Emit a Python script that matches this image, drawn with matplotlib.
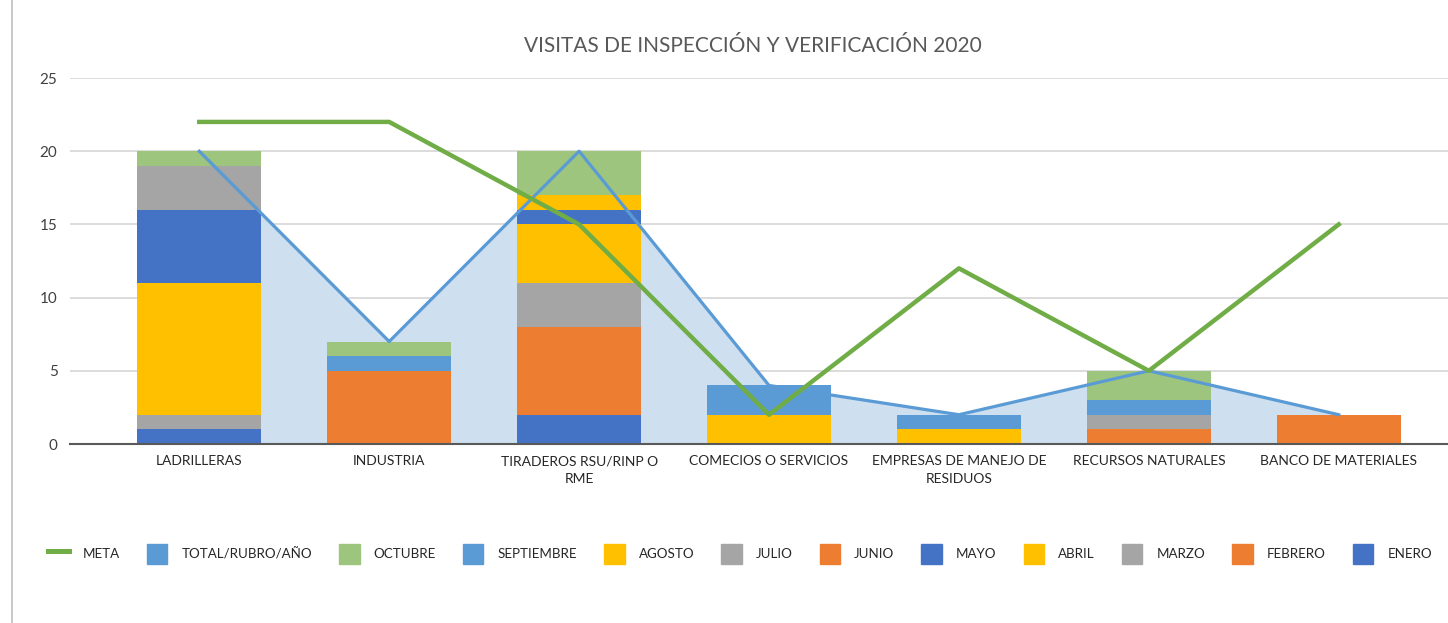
import numpy as np
import matplotlib.pyplot as plt
from matplotlib.lines import Line2D
from matplotlib.patches import Patch

plt.rcParams['font.family'] = ['Lato', 'DejaVu Sans']

categorias = ['LADRILLERAS', 'INDUSTRIA', 'TIRADEROS RSU/RINP O\nRME', 'COMECIOS O SERVICIOS',
              'EMPRESAS DE MANEJO DE\nRESIDUOS', 'RECURSOS NATURALES', 'BANCO DE MATERIALES']
meses = ['ENERO', 'FEBRERO', 'MARZO', 'ABRIL', 'MAYO', 'JUNIO', 'JULIO', 'AGOSTO', 'SEPTIEMBRE', 'OCTUBRE']

enero = [1, 0, 2, 0, 0, 0, 0]
febrero = [0, 0, 6, 0, 0, 1, 2]
marzo = [1, 0, 3, 0, 0, 1, 0]
abril = [9, 0, 4, 2, 1, 0, 0]
mayo = [5, 0, 1, 0, 0, 0, 0]
junio = [0, 5, 0, 0, 0, 0, 0]
julio = [3, 0, 0, 0, 0, 0, 0]
agosto = [0, 0, 1, 0, 0, 0, 0]
septiembre = [0, 1, 0, 2, 1, 1, 0]
octubre = [1, 1, 3, 0, 0, 2, 0]
total = [20, 7, 20, 4, 2, 5, 2]
meta = [22, 22, 15, 2, 12, 5, 15]

valores = [enero, febrero, marzo, abril, mayo, junio, julio, agosto, septiembre, octubre]
colores = ['#4472C4', '#ED7D31', '#A5A5A5', '#FFC000', '#4472C4', '#ED7D31',
           '#A5A5A5', '#FFC000', '#5B9BD5', '#9DC57E']

fig = plt.figure(figsize=(14.48, 6.23), dpi=100)
ax = fig.add_axes([70/1448, 1-444/623, 1-70/1448, (444-78)/623])

x = np.arange(len(categorias))
ax.fill_between(x, 0, total, color='#CEDFF0', zorder=1, lw=0)

base = np.zeros(len(categorias))
for v, c in zip(valores, colores):
    ax.bar(x, v, 0.655, bottom=base, color=c, zorder=2)
    base += np.array(v)

ax.plot(x, total, color='#5B9BD5', lw=2.3, zorder=3)
ax.plot(x, meta, color='#70AD47', lw=3.2, zorder=4)

ax.set_ylim(0, 25)
ax.set_xlim(-(199-70)/189.5, 6 + (1448-1339)/189.5)
ax.set_yticks(range(0, 26, 5))
ax.grid(axis='y', color='#D9D9D9', lw=1.3, zorder=0)
ax.set_axisbelow(True)
for s in ['top', 'right', 'left']:
    ax.spines[s].set_visible(False)
ax.spines['bottom'].set_color('#595959')
ax.spines['bottom'].set_linewidth(1.5)
ax.spines['bottom'].set_zorder(5)
ax.set_xticks(x)
ax.set_xticklabels(categorias, fontsize=10, color='#262626', linespacing=1.6)
ax.tick_params(axis='x', length=0, pad=8)
ax.tick_params(axis='y', length=0, pad=9, labelsize=11, labelcolor='#404040')

fig.text(753/1448, 1-46/623, 'VISITAS DE INSPECCIÓN Y VERIFICACIÓN 2020', ha='center', va='center',
         fontsize=15, color='#595959')

# borde del grafico
fig.add_artist(Line2D([12/1448, 12/1448], [0, 1], color='#BFBFBF', lw=1.2))

handles = [Line2D([0], [0], color='#70AD47', lw=3.6), Patch(color='#5B9BD5')]
etiquetas = ['META', 'TOTAL/RUBRO/AÑO']
for m, c in reversed(list(zip(meses, colores))):
    handles.append(Patch(color=c))
    etiquetas.append(m)
fig.legend(handles, etiquetas, loc='center left', bbox_to_anchor=(48/1448, 1-554/623), ncol=12,
           frameon=False, fontsize=9.6, handlelength=1.55, handleheight=1.9, handletextpad=1.05,
           columnspacing=2.02, labelcolor='#262626', borderpad=0, borderaxespad=0)

fig.savefig('out.png', dpi=100)
